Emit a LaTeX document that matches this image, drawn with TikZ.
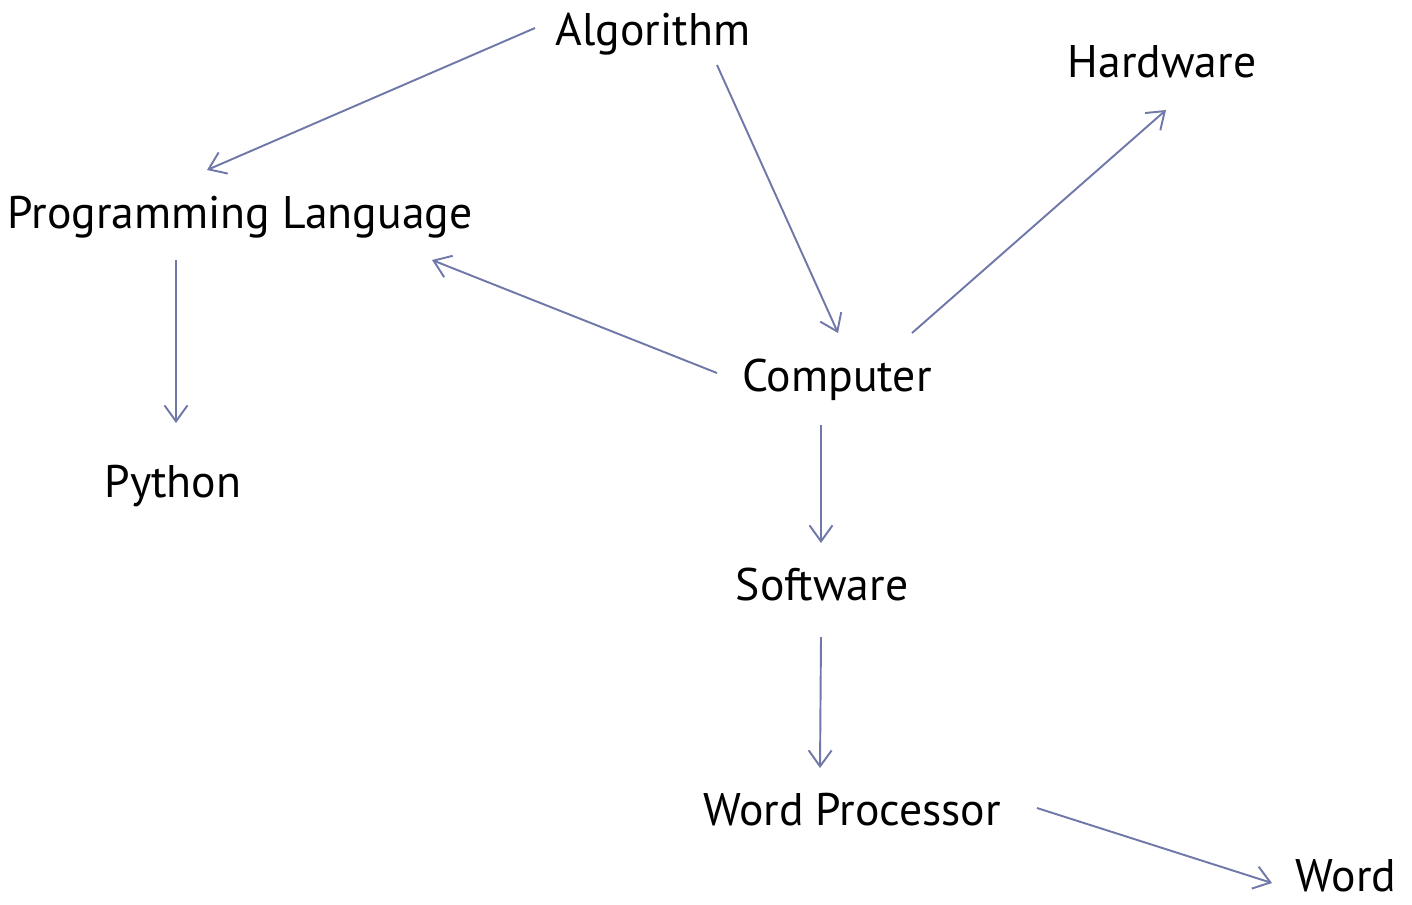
\documentclass[tikz,border=0pt]{standalone}
\usepackage{fontspec}
\setmainfont{PT Sans}
\usetikzlibrary{arrows.meta}
\definecolor{edgeblue}{HTML}{6F78A8}

\begin{document}
\begin{tikzpicture}[x=0.02cm,y=-0.02cm,
      lbl/.style={anchor=base,inner sep=0pt,font=\fontsize{26}{31}\selectfont},
      link/.style={draw=edgeblue,line width=1.1pt,-{Straight Barb[length=0.32cm,width=0.46cm]}}]
      \useasboundingbox (0,0) rectangle (1412,904);
      \node[lbl] (alg) at (653,45) {Algorithm}; \node[lbl] (hw) at (1162,77) {Hardware};
      \node[lbl] (pl) at (240,228) {Programming Language}; \node[lbl] (py) at (173,497) {Python};
      \node[lbl] (comp) at (837,391) {Computer}; \node[lbl] (sw) at (822,600) {Software};
      \node[lbl] (wp) at (852,825) {Word Processor}; \node[lbl] (word) at (1346,891) {Word};
      \draw[link] ([shift={(-118,-17)}]alg.base) -- ([shift={(-33,-58)}]pl.base);
      \draw[link] ([shift={(64,20)}]alg.base) -- ([shift={(1,-58)}]comp.base);
      \draw[link] ([shift={(75,-58)}]comp.base) -- ([shift={(4,33)}]hw.base);
      \draw[link] ([shift={(-120,-18)}]comp.base) -- ([shift={(192,32)}]pl.base);
      \draw[link] ([shift={(-64,32)}]pl.base) -- ([shift={(3,-74)}]py.base);
      \draw[link] ([shift={(-16,34)}]comp.base) -- ([shift={(-1,-57)}]sw.base);
      \draw[link] ([shift={(-1,37)}]sw.base) -- ([shift={(-32,-57)}]wp.base);
      \draw[link] ([shift={(185,-17)}]wp.base) -- ([shift={(-74,-8)}]word.base);
\end{tikzpicture}
\end{document}
